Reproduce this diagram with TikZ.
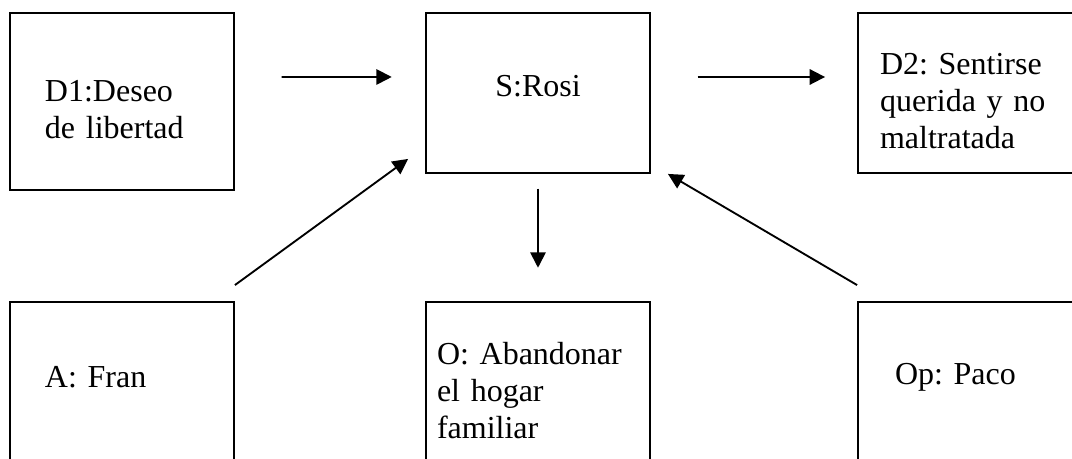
\documentclass[tikz,border=0pt]{standalone}
\usepackage{fontspec}
\setmainfont{Liberation Serif}
\usepackage{tikz}
\usetikzlibrary{arrows.meta}
\tikzstyle{caja}=[rectangle,draw,line width=1.4pt,minimum width=168pt,minimum height=120pt,align=left,inner sep=0pt]
\tikzstyle{flecha}=[-{Triangle[length=11.5pt,width=11.5pt]},line width=1.4pt]

\begin{document}
\begin{tikzpicture}[x=0.75pt,y=-0.75pt,font=\fontsize{24pt}{27.5pt}\selectfont\frenchspacing]
\path[use as bounding box,clip] (0,0) rectangle (1072,459);
\node[caja,minimum height=132.75pt,text width=115.5pt,text height=0pt,text depth=0pt] (d1) at (122,101.5) {D1:Deseo\\de libertad};
\node[caja,align=center,text height=6pt,text depth=0pt] (s) at (538,93) {S:Rosi};
\node[caja,text width=135pt,text height=0pt,text depth=27pt] (d2) at (970,93) {D2: Sentirse\\querida y no\\maltratada};
\node[caja,text width=115.5pt,text height=9pt,text depth=0pt] (a) at (122,382) {A: Fran};
\node[caja,text width=151.5pt,text height=0pt,text depth=25.5pt] (o) at (538,382) {O: Abandonar\\el hogar\\familiar};
\node[caja,text width=112.5pt,text height=4.5pt,text depth=0pt] (op) at (970,382) {Op: Paco};
%flechas
\draw[flecha,shorten <=35pt,shorten >=25pt] ([yshift=18.4pt]d1.east) -- ([yshift=12pt]s.west);
\draw[flecha,shorten <=35pt,shorten >=24pt] ([yshift=12pt]s.east) -- ([yshift=12pt]d2.west);
\draw[flecha,shorten <=11pt,shorten >=25pt] (s) -- (o);
\draw[flecha] ([yshift=12pt]a.north east) -- ([xshift=-12.75pt,yshift=11.25pt]s.south west);
\draw[flecha] ([yshift=12pt]op.north west) -- ([xshift=12.75pt]s.south east);
\end{tikzpicture}
\end{document}
